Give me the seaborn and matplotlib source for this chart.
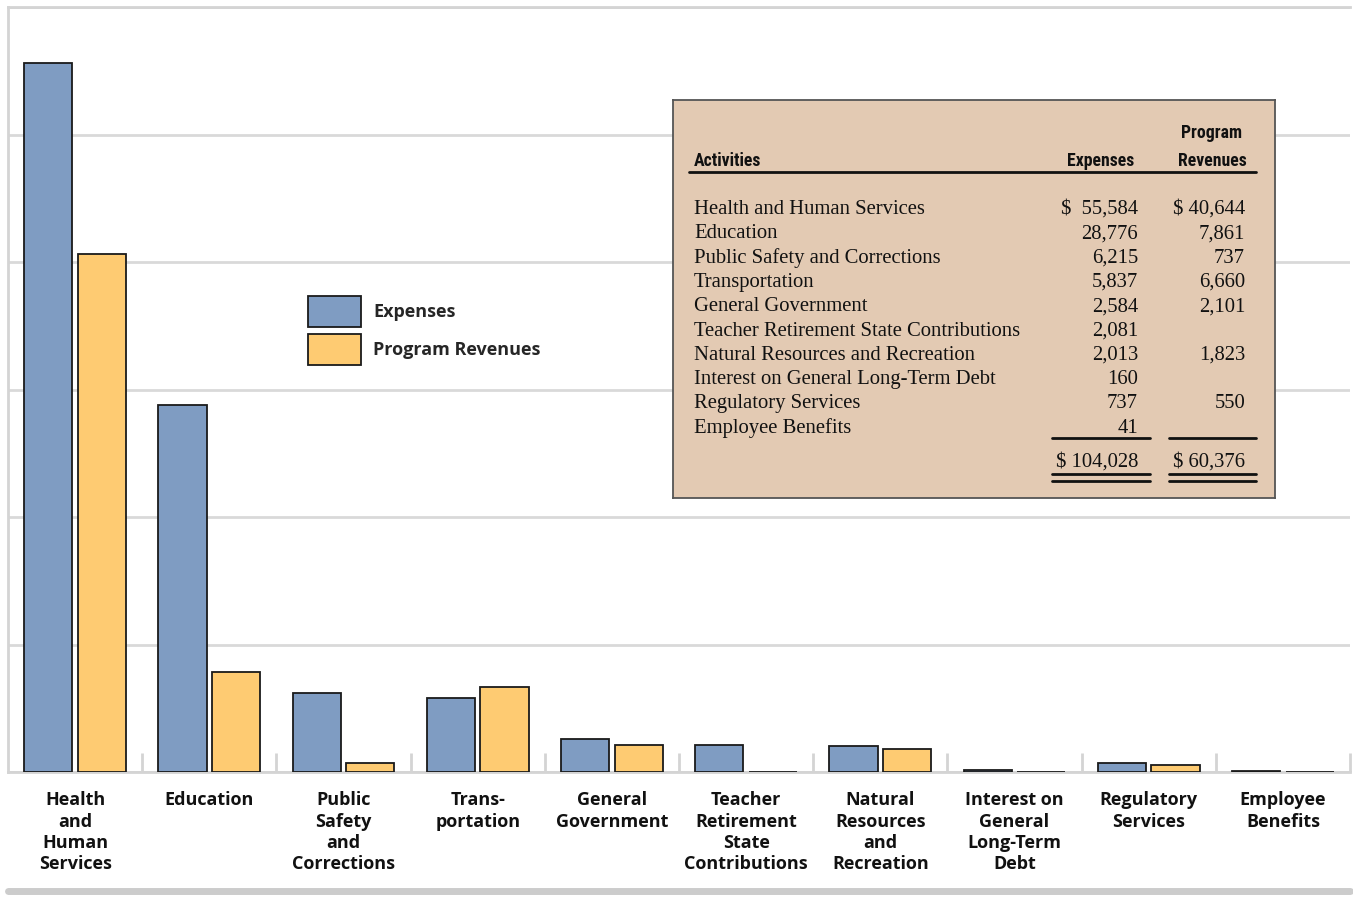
import pandas as pd
import matplotlib.pyplot as plt
import seaborn as sns
from matplotlib.lines import Line2D
from matplotlib.ticker import MultipleLocator

sns.set_theme(style="white")

activities = ["Health and Human Services", "Education", "Public Safety and Corrections",
              "Transportation", "General Government", "Teacher Retirement State Contributions",
              "Natural Resources and Recreation", "Interest on General Long-Term Debt",
              "Regulatory Services", "Employee Benefits"]
tick_labels = ["Health\nand\nHuman\nServices", "Education", "Public\nSafety\nand\nCorrections",
               "Trans-\nportation", "General\nGovernment", "Teacher\nRetirement\nState\nContributions",
               "Natural\nResources\nand\nRecreation", "Interest on\nGeneral\nLong-Term\nDebt",
               "Regulatory\nServices", "Employee\nBenefits"]
expenses = [55584, 28776, 6215, 5837, 2584, 2081, 2013, 160, 737, 41]
revenues = [40644, 7861, 737, 6660, 2101, 0, 1823, 0, 550, 0]
exp_text = ["$  55,584", "28,776", "6,215", "5,837", "2,584", "2,081", "2,013", "160", "737", "41"]
rev_text = ["$ 40,644", "7,861", "737", "6,660", "2,101", "", "1,823", "", "550", ""]
total_exp = "$ 104,028"
total_rev = "$ 60,376"

df = pd.DataFrame({
    "activity": tick_labels * 2,
    "value": expenses + revenues,
    "series": ["Expenses"] * len(expenses) + ["Program Revenues"] * len(revenues),
})

W, H = 1353, 897
fig = plt.figure(figsize=(W / 100, H / 100), dpi=100)
ax = fig.add_axes([8 / W, (H - 772) / H, (1350 - 8) / W, (772 - 7) / H])

palette = {"Expenses": "#7f9cc2", "Program Revenues": "#fecb72"}
sns.barplot(data=df, x="activity", y="value", hue="series", palette=palette, saturation=1,
            edgecolor="#1a1a1a", linewidth=1.3, gap=0.1, ax=ax, legend=True)
for p in ax.patches:
    p.set_zorder(3)

ax.set_xlim(-0.5, len(activities) - 0.5)
ax.set_ylim(0, 60000)
ax.yaxis.set_major_locator(MultipleLocator(10000))
ax.set_yticklabels([])
ax.tick_params(axis="y", length=0)
ax.grid(axis="y", color="#d9d9d9", linewidth=2)
ax.set_axisbelow(True)
ax.set_xlabel("")
ax.set_ylabel("")

for side in ["left", "top", "bottom"]:
    ax.spines[side].set_color("#d4d4d4")
    ax.spines[side].set_linewidth(2)
ax.spines["right"].set_visible(False)

ax.set_xticks(range(len(tick_labels)))
ax.set_xticklabels(tick_labels, fontsize=13, fontweight="bold", family=["Open Sans", "DejaVu Sans"],
                   linespacing=1.22, color="#111111")
ax.tick_params(axis="x", which="major", bottom=False, length=0, pad=14)
ax.set_xticks([i + 0.5 for i in range(len(tick_labels))], minor=True)
ax.tick_params(axis="x", which="minor", bottom=True, direction="in", length=14, width=2, color="#d4d4d4")

leg = ax.legend(loc="upper left", bbox_to_anchor=((292 - 8) / (1350 - 8), (772 - 280) / (772 - 7)),
                frameon=False, fontsize=13, handlelength=2.9, handleheight=2.25,
                labelspacing=0.38, handletextpad=0.7)
for t in leg.get_texts():
    t.set_fontweight("bold")
    t.set_family(["Open Sans", "DejaVu Sans"])

# bottom band
fig.add_artist(Line2D([8 / W, 1350 / W], [(H - 891) / H] * 2, color="#cccccc", linewidth=5))

# table panel
tx = fig.add_axes([673 / W, (H - 498) / H, (1275 - 673) / W, (498 - 100) / H])
tx.set_xlim(673, 1275)
tx.set_ylim(498, 100)
tx.set_xticks([])
tx.set_yticks([])
tx.set_facecolor("#e3cab3")
for s in tx.spines.values():
    s.set_color("#555555")
    s.set_linewidth(1.3)

hdr = dict(fontsize=12.8, fontweight="bold", fontstretch="condensed",
           family=["Liberation Sans Narrow", "DejaVu Sans Condensed", "Roboto Condensed", "DejaVu Sans"],
           va="baseline", color="#111111")
tx.text(694, 166, "Activities", ha="left", **hdr)
tx.text(1134, 166, "Expenses", ha="right", **hdr)
tx.text(1212, 138, "Program", ha="center", **hdr)
tx.text(1212, 166, "Revenues", ha="center", **hdr)
tx.plot([689, 1256], [172, 172], color="#111111", lw=2)

body = dict(fontsize=14.9, family=["Liberation Serif", "DejaVu Serif"], va="baseline", color="#111111")
for i, name in enumerate(activities):
    y = 214 + i * 24.3
    tx.text(694, y, name, ha="left", **body)
    tx.text(1138, y, exp_text[i], ha="right", **body)
    tx.text(1245, y, rev_text[i], ha="right", **body)

tx.plot([1052, 1150], [438, 438], color="#111111", lw=2)
tx.plot([1169, 1256], [438, 438], color="#111111", lw=2)
tx.text(1138, 467, total_exp, ha="right", **body)
tx.text(1245, 467, total_rev, ha="right", **body)
for yy in [474, 481]:
    tx.plot([1052, 1150], [yy, yy], color="#111111", lw=2)
    tx.plot([1169, 1256], [yy, yy], color="#111111", lw=2)

fig.savefig("out.png", dpi=100)
